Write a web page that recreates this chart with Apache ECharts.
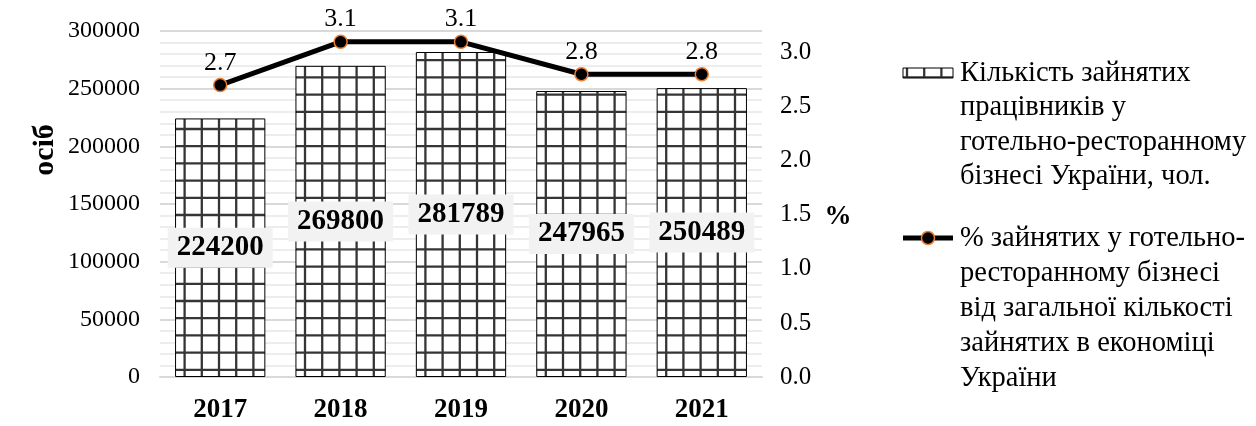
<!DOCTYPE html>
<html>
<head>
<meta charset="utf-8">
<script src="https://cdn.jsdelivr.net/npm/echarts@6/dist/echarts.min.js"></script>
<style>
  html, body { margin: 0; padding: 0; background: #ffffff; }
  #chart { width: 1256px; height: 426px; }
</style>
</head>
<body>
<div id="chart"></div>
<script>
// Years on the category axis
const categories = ['2017', '2018', '2019', '2020', '2021'];
// Number of people employed in the hotel and restaurant business, persons
const employees = [224200, 269800, 281789, 247965, 250489];
// Share of hotel/restaurant employment in total employment, %
const sharePct = [2.7, 3.1, 3.1, 2.8, 2.8];

const barName = 'Кількість зайнятих\nпрацівників у\nготельно-ресторанному\nбізнесі України, чол.';
const lineName = '% зайнятих у готельно-\nресторанному бізнесі\nвід загальної кількості\nзайнятих в економіці\nУкраїни';

const SERIF = '"Liberation Serif", "Times New Roman", "DejaVu Serif", serif';

// Square grid hatch used to fill the bars
function gridPattern() {
  const period = 172;            // ten cells of 17.2 px
  const cell = period / 10;
  const c = document.createElement('canvas');
  c.width = period; c.height = period;
  const g = c.getContext('2d');
  g.fillStyle = '#ffffff';
  g.fillRect(0, 0, period, period);
  g.strokeStyle = '#353535';
  g.lineWidth = 2.3;
  for (let k = 0; k < 10; k++) {
    const x = 12.6 + k * cell;
    const y = 8.6 + k * cell;
    g.beginPath(); g.moveTo(x, 0); g.lineTo(x, period); g.stroke();
    g.beginPath(); g.moveTo(0, y); g.lineTo(period, y); g.stroke();
  }
  return c;
}
const hatch = { image: gridPattern(), repeat: 'repeat' };

const chart = echarts.init(document.getElementById('chart'), null, { renderer: 'canvas' });

const option = {
  animation: false,
  backgroundColor: '#ffffff',
  textStyle: { fontFamily: SERIF, color: '#000000' },
  grid: { left: 160, right: 494, top: 31, bottom: 49, containLabel: false },
  xAxis: {
    type: 'category',
    data: categories,
    axisLine: { show: true, lineStyle: { color: '#d9d9d9', width: 2 } },
    axisTick: { show: false },
    axisLabel: { fontFamily: SERIF, fontSize: 27, fontWeight: 'bold', color: '#000', margin: 20 }
  },
  yAxis: [
    {
      type: 'value',
      min: 0, max: 300000, interval: 50000,
      axisLine: { show: false },
      axisTick: { show: false },
      axisLabel: { fontFamily: SERIF, fontSize: 24, color: '#000', margin: 20, formatter: v => String(v) },
      splitLine: { show: true, lineStyle: { color: '#d9d9d9', width: 2 } },
      minorTick: { show: false, splitNumber: 5 },
      minorSplitLine: { show: true, lineStyle: { color: '#ededed', width: 2 } }
    },
    {
      type: 'value',
      min: 0, max: 3.2, interval: 0.5,
      position: 'right',
      axisLine: { show: false },
      axisTick: { show: false },
      splitLine: { show: false },
      axisLabel: {
        fontFamily: SERIF, fontSize: 25, color: '#000', margin: 18,
        showMaxLabel: false,
        formatter: v => v.toFixed(1)
      }
    }
  ],
  series: [
    {
      name: barName,
      type: 'bar',
      data: employees,
      yAxisIndex: 0,
      barCategoryGap: '25%',
      itemStyle: { color: hatch, borderColor: '#000000', borderWidth: 1 },
      label: {
        show: true,
        position: 'inside',
        fontFamily: SERIF,
        fontSize: 29,
        fontWeight: 'bold',
        color: '#000',
        backgroundColor: '#f2f2f2',
        padding: [5, 9, 3, 9],
        lineHeight: 32
      },
      z: 2
    },
    {
      name: lineName,
      type: 'line',
      data: sharePct,
      yAxisIndex: 1,
      symbol: 'circle',
      symbolSize: 13,
      lineStyle: { color: '#000000', width: 5 },
      itemStyle: { color: '#000000', borderColor: '#ed7d31', borderWidth: 1.5 },
      label: {
        show: true,
        position: 'top',
        distance: 2,
        fontFamily: SERIF,
        fontSize: 26,
        color: '#000',
        formatter: p => p.value.toFixed(1)
      },
      z: 5
    }
  ],
  graphic: [
    // axis titles
    {
      type: 'text', x: 45, y: 150, rotation: Math.PI / 2,
      style: { text: 'осіб', font: 'bold 30px ' + SERIF, fill: '#000', align: 'center', verticalAlign: 'middle' }
    },
    {
      type: 'text', x: 838, y: 217,
      style: { text: '%', font: 'bold 27px ' + SERIF, fill: '#000', align: 'center', verticalAlign: 'middle' }
    },
    // legend: bars
    {
      type: 'rect', shape: { x: 903, y: 68, width: 50, height: 10 },
      style: { fill: hatch, stroke: '#000', lineWidth: 1 }
    },
    {
      type: 'text', x: 960, y: 56,
      style: { text: barName, font: '28.5px ' + SERIF, fill: '#000', lineHeight: 34.5, align: 'left', verticalAlign: 'top' }
    },
    // legend: line
    {
      type: 'line', shape: { x1: 903, y1: 238, x2: 953, y2: 238 },
      style: { stroke: '#000', lineWidth: 5 }
    },
    {
      type: 'circle', shape: { cx: 928, cy: 238, r: 6.5 },
      style: { fill: '#000', stroke: '#ed7d31', lineWidth: 1.5 }
    },
    {
      type: 'text', x: 960, y: 221,
      style: { text: lineName, font: '28.5px ' + SERIF, fill: '#000', lineHeight: 35, align: 'left', verticalAlign: 'top' }
    }
  ]
};

chart.setOption(option);
</script>
</body>
</html>
